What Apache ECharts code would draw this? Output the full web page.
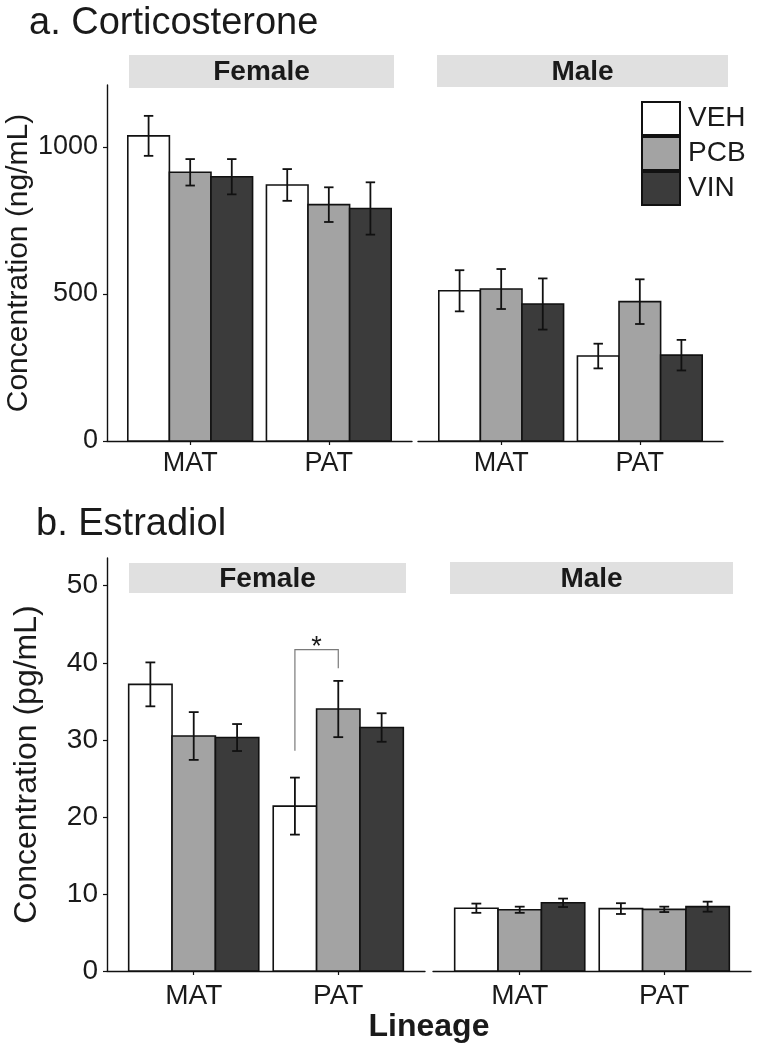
<!DOCTYPE html>
<html>
<head>
<meta charset="utf-8">
<script src="https://cdn.jsdelivr.net/npm/echarts@6/dist/echarts.min.js"></script>
<style>
  html, body { margin: 0; padding: 0; background: #fff; }
  #chart { width: 760px; height: 1050px; }
</style>
</head>
<body>
<div id="chart"></div>
<script>
// ---------------- DATA ----------------
const lineages = ['MAT', 'PAT'];
const treatments = ['VEH', 'PCB', 'VIN'];
const sexes = ['Female', 'Male'];

// rows = treatment (VEH, PCB, VIN), columns = lineage (MAT, PAT)
const cortFemaleMean = [[1038, 871], [914, 804], [899, 791]];
const cortFemaleErr  = [[68, 54], [45, 59], [60, 89]];
const cortMaleMean   = [[511, 289], [517, 474], [466, 292]];
const cortMaleErr    = [[70, 42], [68, 76], [87, 52]];

const estrFemaleMean = [[37.2, 21.4], [30.5, 34.0], [30.3, 31.6]];
const estrFemaleErr  = [[2.85, 3.7], [3.1, 3.65], [1.75, 1.85]];
const estrMaleMean   = [[8.15, 8.1], [7.95, 8.0], [8.85, 8.35]];
const estrMaleErr    = [[0.6, 0.7], [0.4, 0.35], [0.55, 0.65]];

const cortTicks = [0, 500, 1000];
const estrTicks = [0, 10, 20, 30, 40, 50];
const cortAxisMax = 1211;
const estrAxisMax = 53.6;

// significance bracket (Estradiol, Female, PAT: VEH vs PCB)
const sigLineage = 'PAT';
const sigFrom = 'VEH';
const sigTo = 'PCB';
const sigHeights = [28.6, 41.7, 39.3]; // left foot, top, right foot
const sigLabel = '*';

// ---------------- STYLE ----------------
const FONT = '"Liberation Sans", Arial, Helvetica, sans-serif';
const fills = { VEH: '#ffffff', PCB: '#a3a3a3', VIN: '#3b3b3b' };
const DODGE = 0.3;     // ggplot dodge width per bar (0.9 / 3)
const CAP = 0.034;     // half width of error-bar caps
const textColor = '#1a1a1a';

const grids = [
  { left: 107, top: 85,  width: 305, height: 356 },  // a Female
  { left: 418, top: 85,  width: 305, height: 356 },  // a Male
  { left: 107, top: 558, width: 318, height: 413 },  // b Female
  { left: 433, top: 558, width: 318, height: 413 }   // b Male
];

const panels = [
  { mean: cortFemaleMean, err: cortFemaleErr, max: cortAxisMax, ticks: cortTicks, showY: true,  yName: 'Concentration (ng/mL)', fs: 27, nfs: 30, xm: 9,  ng: 66 },
  { mean: cortMaleMean,   err: cortMaleErr,   max: cortAxisMax, ticks: cortTicks, showY: false, fs: 27, xm: 9 },
  { mean: estrFemaleMean, err: estrFemaleErr, max: estrAxisMax, ticks: estrTicks, showY: true,  yName: 'Concentration (pg/mL)', fs: 28, nfs: 32, xm: 11, ng: 64 },
  { mean: estrMaleMean,   err: estrMaleErr,   max: estrAxisMax, ticks: estrTicks, showY: false, fs: 28, xm: 11 }
];

function xPos(li, ti) { return (li + 1) + (ti - 1) * DODGE; }

function renderBar(params, api) {
  const x = api.value(0), y = api.value(1), e = api.value(2);
  const tName = treatments[api.value(3)];
  const p0 = api.coord([x - DODGE / 2, y]);
  const p1 = api.coord([x + DODGE / 2, 0]);
  const top = api.coord([x, y + e]);
  const bot = api.coord([x, y - e]);
  const cl = api.coord([x - CAP, y])[0];
  const cr = api.coord([x + CAP, y])[0];
  const es = { stroke: '#111', lineWidth: 1.8 };
  return {
    type: 'group',
    children: [
      { type: 'rect', shape: { x: p0[0], y: p0[1], width: p1[0] - p0[0], height: p1[1] - p0[1] },
        style: { fill: fills[tName], stroke: '#111', lineWidth: 1.6 } },
      { type: 'line', shape: { x1: top[0], y1: top[1], x2: bot[0], y2: bot[1] }, style: es },
      { type: 'line', shape: { x1: cl, y1: top[1], x2: cr, y2: top[1] }, style: es },
      { type: 'line', shape: { x1: cl, y1: bot[1], x2: cr, y2: bot[1] }, style: es }
    ]
  };
}

const xAxes = [], yAxes = [], series = [];
panels.forEach((p, gi) => {
  xAxes.push({
    type: 'value', gridIndex: gi, min: 0.4, max: 2.6,
    axisLine: { show: true, lineStyle: { color: '#111', width: 1.4 } },
    axisTick: { show: true, length: 4, customValues: [1, 2], lineStyle: { color: '#111', width: 1.2 } },
    axisLabel: { customValues: [1, 2], formatter: v => lineages[Math.round(v) - 1],
                 fontSize: p.fs, fontFamily: FONT, color: textColor, margin: p.xm },
    splitLine: { show: false }
  });
  yAxes.push({
    type: 'value', gridIndex: gi, min: 0, max: p.max, show: p.showY,
    name: p.yName || '', nameLocation: 'middle', nameGap: p.ng || 60,
    nameTextStyle: { fontSize: p.nfs || 26, fontFamily: FONT, color: textColor },
    axisLine: { show: true, lineStyle: { color: '#111', width: 1.4 } },
    axisTick: { show: true, length: 4, customValues: p.ticks, lineStyle: { color: '#111', width: 1.2 } },
    axisLabel: { customValues: p.ticks, formatter: v => String(v), fontSize: p.fs, fontFamily: FONT, color: textColor, margin: 9 },
    splitLine: { show: false }
  });
  treatments.forEach((t, ti) => {
    series.push({
      type: 'custom', name: t, xAxisIndex: gi, yAxisIndex: gi,
      itemStyle: { color: fills[t], borderColor: '#111', borderWidth: 1.6 },
      renderItem: renderBar,
      data: lineages.map((l, li) => [xPos(li, ti), p.mean[ti][li], p.err[ti][li], ti]),
      clip: false, silent: true
    });
  });
});

// significance bracket
const sLi = lineages.indexOf(sigLineage);
series.push({
  type: 'custom', name: 'sig', xAxisIndex: 2, yAxisIndex: 2, silent: true,
  data: [[xPos(sLi, treatments.indexOf(sigFrom)), xPos(sLi, treatments.indexOf(sigTo)), sigHeights[0], sigHeights[1], sigHeights[2]]],
  renderItem: function (params, api) {
    const a = api.coord([api.value(0), api.value(2)]);
    const b = api.coord([api.value(0), api.value(3)]);
    const c = api.coord([api.value(1), api.value(3)]);
    const d = api.coord([api.value(1), api.value(4)]);
    return {
      type: 'group',
      children: [
        { type: 'polyline', shape: { points: [a, b, c, d] }, style: { stroke: '#7a7a7a', lineWidth: 1.2, fill: null } },
        { type: 'text', x: (b[0] + c[0]) / 2, y: b[1] + 11,
          style: { text: sigLabel, fontSize: 27, fontFamily: FONT, fill: textColor, align: 'center', verticalAlign: 'bottom' } }
      ]
    };
  }
});

function strip(x1, x2, y1, y2, label) {
  return [
    { type: 'rect', shape: { x: x1, y: y1, width: x2 - x1, height: y2 - y1 }, style: { fill: '#e0e0e0' }, z: 5 },
    { type: 'text', x: (x1 + x2) / 2, y: (y1 + y2) / 2 + 1, z: 6,
      style: { text: label, fontSize: 28, fontWeight: 'bold', fontFamily: FONT, fill: textColor, align: 'center', verticalAlign: 'middle' } }
  ];
}

const graphics = [
  { type: 'text', x: 29, y: 24, style: { text: 'a. Corticosterone', fontSize: 38, fontFamily: FONT, fill: textColor, align: 'left', verticalAlign: 'middle' } },
  { type: 'text', x: 36, y: 525, style: { text: 'b. Estradiol', fontSize: 38, fontFamily: FONT, fill: textColor, align: 'left', verticalAlign: 'middle' } },
  { type: 'text', x: 429, y: 1027, style: { text: 'Lineage', fontSize: 32, fontWeight: 'bold', fontFamily: FONT, fill: textColor, align: 'center', verticalAlign: 'middle' } }
].concat(
  strip(129, 394, 55, 88, sexes[0]),
  strip(437, 728, 55, 87, sexes[1]),
  strip(129, 406, 563, 593, sexes[0]),
  strip(450, 733, 562, 594, sexes[1])
);

const chart = echarts.init(document.getElementById('chart'), null, { renderer: 'canvas' });
chart.setOption({
  animation: false,
  backgroundColor: '#ffffff',
  textStyle: { fontFamily: FONT },
  grid: grids,
  xAxis: xAxes,
  yAxis: yAxes,
  legend: {
    data: treatments, orient: 'vertical', left: 636, top: 96,
    itemWidth: 38, itemHeight: 33, itemGap: 0, icon: 'rect',
    selectedMode: false,
    textStyle: { fontSize: 28, fontFamily: FONT, color: textColor, padding: [0, 0, 0, 3] }
  },
  graphic: graphics,
  series: series
});
</script>
</body>
</html>
